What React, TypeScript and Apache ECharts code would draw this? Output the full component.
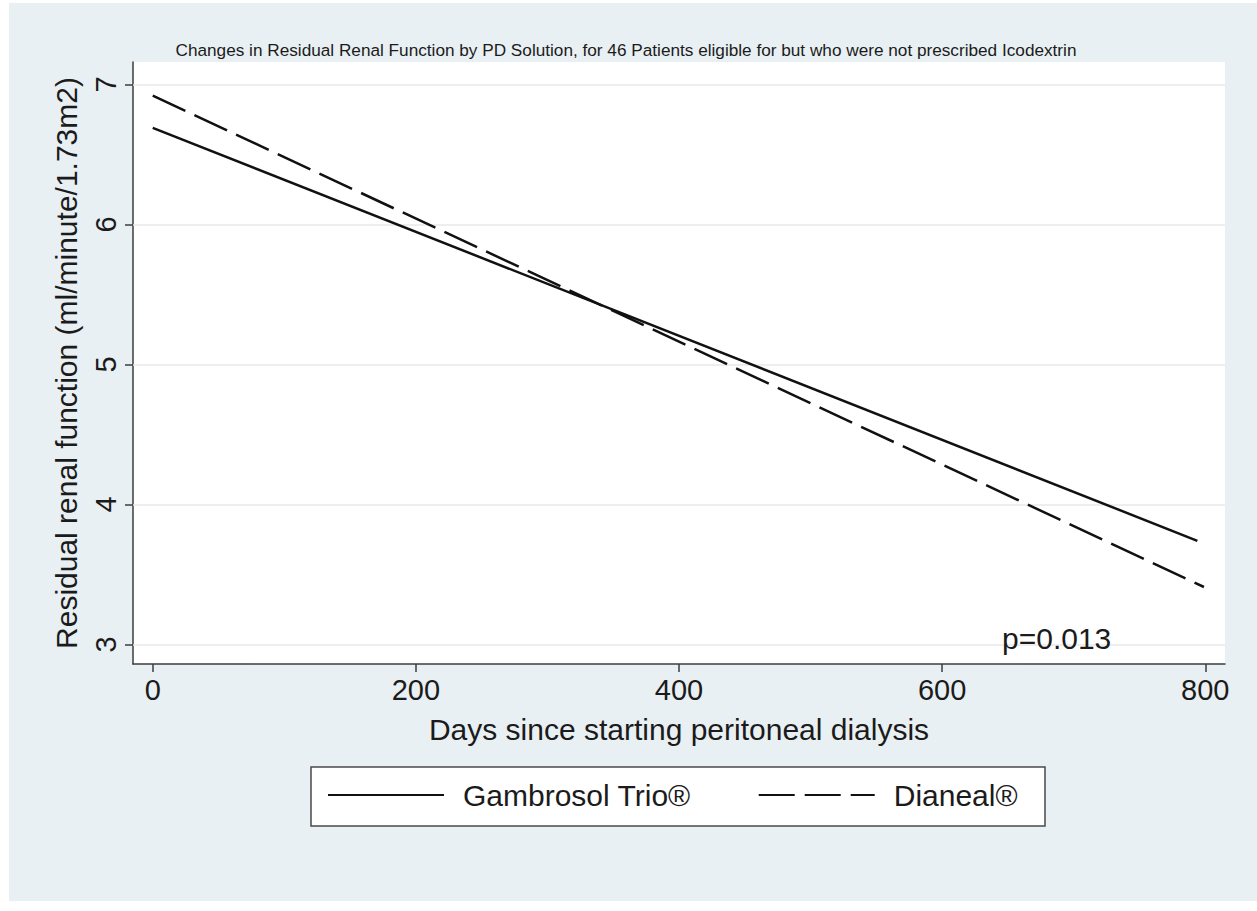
import React, { useEffect, useRef } from "react";
import * as echarts from "echarts";

const titleText =
  "Changes in Residual Renal Function by PD Solution, for 46 Patients eligible for but who were not prescribed Icodextrin";
const xName = "Days since starting peritoneal dialysis";
const yName = "Residual renal function (ml/minute/1.73m2)";
const xTicks = [0, 200, 400, 600, 800];
const yTicks = [3, 4, 5, 6, 7];
const seriesNames = ["Gambrosol Trio®", "Dianeal®"];
const gambrosolDays = [0, 794];
const gambrosolValues = [6.69, 3.74];
const dianealDays = [0, 799];
const dianealValues = [6.92, 3.41];
const pValueText = "p=0.013";

const FONT = "'Liberation Sans', Arial, Helvetica, sans-serif";
const TXT = "#1b1b1b";
const AX = "#3c3c3c";

export default function App() {
  const ref = useRef<HTMLDivElement>(null);
  useEffect(() => {
    if (!ref.current) return;
    const chart = echarts.init(ref.current, undefined, { renderer: "svg" });
    const toPairs = (xs: number[], ys: number[]) => xs.map((x, i) => [x, ys[i]]);
    chart.setOption({
      animation: false,
      textStyle: { fontFamily: FONT },
      title: {
        text: titleText,
        left: 621,
        top: 36,
        textAlign: "center",
        textStyle: { fontFamily: FONT, fontSize: 17.2, fontWeight: "normal", color: TXT },
      },
      grid: {
        left: 133,
        right: 32,
        top: 62,
        bottom: 247,
        show: true,
        backgroundColor: "#ffffff",
        borderWidth: 0,
      },
      legend: {
        left: 327,
        top: 780,
        itemWidth: 116,
        itemHeight: 14,
        itemGap: 67,
        padding: 0,
        data: seriesNames,
        itemStyle: { opacity: 0 },
        textStyle: { fontFamily: FONT, fontSize: 30, color: TXT, padding: [0, 0, 0, 14] },
      },
      xAxis: {
        type: "value",
        min: -15,
        max: 815,
        name: xName,
        nameLocation: "middle",
        nameGap: 50,
        nameTextStyle: { fontFamily: FONT, fontSize: 30, color: TXT },
        axisLine: { show: true, onZero: false, lineStyle: { color: AX, width: 1.5 } },
        axisTick: { show: true, customValues: xTicks, length: 8, lineStyle: { color: AX, width: 1.5 } },
        axisLabel: { customValues: xTicks, fontSize: 29, color: TXT, margin: 11, fontFamily: FONT },
        splitLine: { show: false },
      },
      yAxis: {
        type: "value",
        min: 2.86,
        max: 7.16,
        name: yName,
        nameLocation: "middle",
        nameGap: 52,
        nameRotate: 90,
        nameTextStyle: { fontFamily: FONT, fontSize: 30, color: TXT },
        axisLine: { show: true, onZero: false, lineStyle: { color: AX, width: 1.5 } },
        axisTick: { show: true, customValues: yTicks, length: 8, lineStyle: { color: AX, width: 1.5 } },
        axisLabel: { customValues: yTicks, rotate: 90, fontSize: 29, color: TXT, margin: 13, fontFamily: FONT },
        splitLine: { show: false },
      },
      graphic: [
        {
          type: "rect",
          z: 1,
          shape: { x: 311, y: 767, width: 734, height: 59 },
          style: { fill: "#ffffff", stroke: "#4a4a4a", lineWidth: 1.5 },
        },
        {
          type: "text",
          z: 10,
          x: 1002,
          y: 638,
          style: {
            text: pValueText,
            fontFamily: FONT,
            fontSize: 30,
            fill: TXT,
            textVerticalAlign: "middle",
            verticalAlign: "middle",
          },
        },
      ],
      series: [
        {
          name: seriesNames[0],
          type: "line",
          symbol: "none",
          data: toPairs(gambrosolDays, gambrosolValues),
          lineStyle: { color: "#111111", width: 2.5, type: "solid" },
          itemStyle: { color: "#111111" },
          z: 5,
          markLine: {
            silent: true,
            symbol: ["none", "none"],
            label: { show: false },
            lineStyle: { color: "#e8e8e8", width: 1.5, type: "solid" },
            data: yTicks.map((v) => ({ yAxis: v })),
            z: 1,
          },
        },
        {
          name: seriesNames[1],
          type: "line",
          symbol: "none",
          data: toPairs(dianealDays, dianealValues),
          lineStyle: { color: "#111111", width: 2.5, type: [36, 10] },
          itemStyle: { color: "#111111" },
          z: 5,
        },
      ],
    });
    return () => chart.dispose();
  }, []);
  return (
    <div style={{ position: "absolute", left: 0, top: 0, width: 1257, height: 911, background: "#ffffff" }}>
      <div style={{ position: "absolute", left: 9, top: 3, width: 1248, height: 898, background: "#e9f0f3" }} />
      <div ref={ref} style={{ position: "absolute", left: 0, top: 0, width: 1257, height: 911 }} />
    </div>
  );
}
